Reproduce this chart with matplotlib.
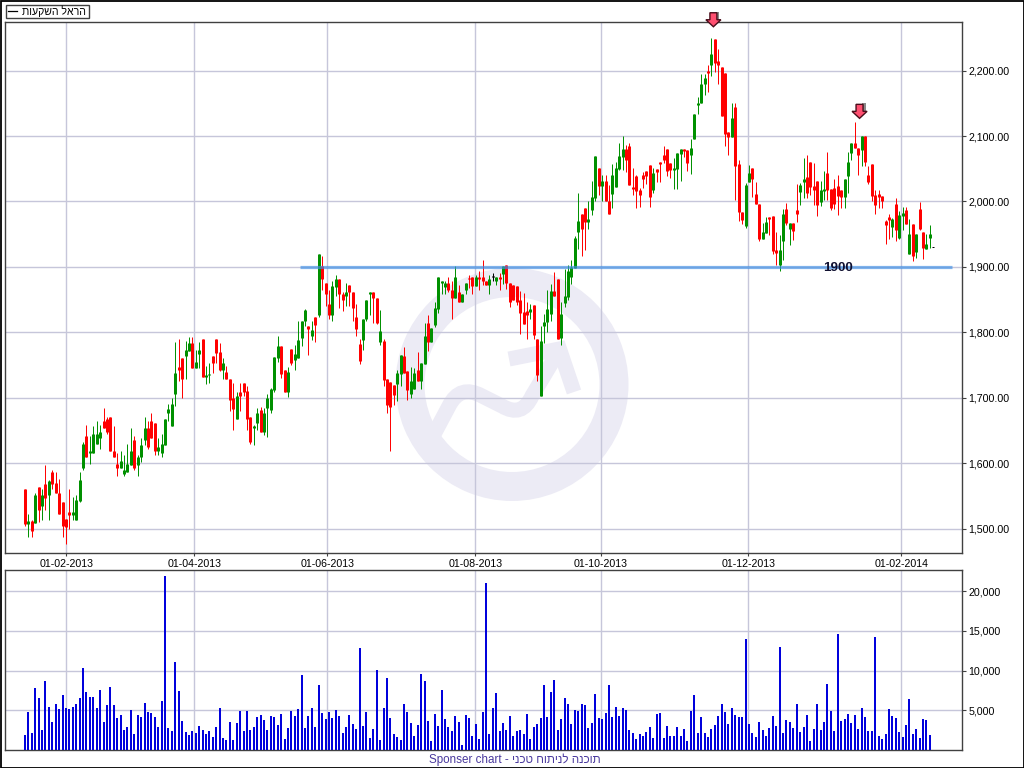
import numpy as np
import matplotlib
matplotlib.use('Agg')
import matplotlib.pyplot as plt
from matplotlib.patches import Wedge, Polygon, Rectangle, PathPatch
from matplotlib.path import Path
from matplotlib.lines import Line2D
from matplotlib.transforms import Affine2D

# candles: wick high, body top, body bottom, wick low, colour letter per session
highs = [
    1560,1522,1513,1555,1563,1560,1597,1574,1590,1587, 1575,1540,1514,1560,1548,1551,1587,1632,1659,1642,
    1657,1664,1659,1685,1670,1670,1657,1616,1618,1612, 1629,1653,1642,1612,1639,1670,1664,1677,1662,1639,
    1645,1667,1691,1700,1785,1789,1761,1787,1793,1793, 1773,1785,1790,1749,1753,1763,1789,1784,1760,1749,
    1729,1723,1709,1723,1723,1718,1670,1659,1685,1686, 1684,1706,1715,1762,1794,1779,1742,1747,1774,1780,
    1818,1818,1835,1809,1818,1823,1920,1917,1875,1864, 1878,1887,1882,1862,1875,1873,1862,1844,1789,1821,
    1849,1862,1862,1852,1834,1789,1728,1724,1719,1742, 1765,1777,1741,1747,1745,1770,1753,1814,1827,1806,
    1846,1885,1878,1878,1884,1878,1902,1873,1859,1875, 1887,1884,1888,1894,1911,1879,1888,1891,1884,1890,
    1901,1903,1876,1873,1870,1863,1860,1847,1844,1842, 1790,1809,1828,1865,1874,1892,1882,1847,1897,1903,
    1911,1947,2013,1981,1990,2001,2032,2069,2051,2040, 2040,2025,2057,2060,2089,2100,2086,2089,2051,2040,
    2020,2045,2046,2055,2051,2049,2060,2084,2080,2058, 2066,2074,2080,2080,2078,2095,2133,2160,2195,2195,
    2209,2250,2249,2233,2205,2197,2106,2150,2150,2064, 1984,2028,2055,2051,2029,1996,1967,1976,1976,1977,
    1953,1949,1988,1997,1967,1967,2026,2028,2066,2071, 2060,2058,2031,2031,2046,2075,2019,2034,2040,2017,
    2034,2075,2089,2122,2081,2100,2100,2054,2057,2017, 2017,2008,1972,1981,1975,2005,1985,1991,1991,1973,
    1965,1950,1999,1953,1950,1964]
tops = [
    1560,1511,1512,1551,1563,1552,1568,1572,1586,1569, 1555,1540,1514,1525,1525,1543,1574,1629,1641,1619,
    1645,1644,1648,1664,1668,1670,1619,1598,1603,1589, 1598,1619,1635,1610,1627,1654,1654,1665,1662,1624,
    1629,1667,1682,1691,1738,1747,1761,1773,1784,1784, 1755,1773,1790,1735,1737,1763,1789,1770,1753,1740,
    1729,1700,1702,1709,1723,1711,1670,1657,1677,1681, 1677,1699,1713,1762,1779,1779,1742,1739,1774,1767,
    1788,1818,1834,1809,1803,1823,1920,1902,1875,1843, 1870,1882,1882,1859,1862,1873,1862,1823,1782,1821,
    1849,1862,1862,1852,1802,1786,1728,1724,1719,1738, 1765,1763,1741,1725,1738,1742,1753,1795,1814,1806,
    1837,1885,1878,1875,1875,1865,1884,1861,1859,1875, 1882,1884,1884,1884,1884,1879,1881,1885,1884,1884,
    1901,1903,1876,1873,1870,1850,1831,1833,1836,1842, 1790,1786,1816,1836,1863,1863,1882,1828,1856,1894,
    1900,1944,1970,1981,1990,1973,2007,2069,2051,2031, 2031,2001,2040,2051,2069,2080,2080,2084,2022,2039,
    2017,2040,2046,2055,2043,2049,2060,2071,2080,2058, 2051,2074,2080,2080,2078,2081,2133,2150,2180,2189,
    2200,2226,2249,2214,2205,2197,2106,2127,2145,2057, 1984,2025,2043,2051,2011,1996,1953,1969,1976,1977,
    1926,1926,1981,1988,1967,1967,1987,2025,2034,2037, 2060,2023,2031,2017,2019,2043,2019,2020,2023,2017,
    2034,2060,2089,2089,2081,2100,2100,2040,2057,2010, 2011,2008,1970,1976,1973,1996,1979,1982,1987,1950,
    1965,1950,1988,1953,1935,1950]
bottoms = [
    1507,1507,1497,1509,1529,1534,1546,1551,1568,1554, 1523,1504,1502,1520,1520,1513,1542,1593,1610,1615,
    1616,1630,1639,1653,1648,1618,1610,1592,1592,1583, 1587,1597,1592,1597,1609,1635,1625,1639,1619,1619,
    1615,1627,1677,1657,1706,1743,1729,1763,1772,1746, 1746,1767,1732,1732,1734,1753,1769,1743,1743,1728,
    1696,1683,1667,1703,1709,1668,1632,1654,1662,1648, 1648,1684,1681,1712,1760,1736,1709,1709,1753,1757,
    1760,1792,1817,1805,1795,1811,1826,1881,1859,1827, 1827,1869,1858,1850,1856,1861,1837,1805,1756,1788,
    1820,1858,1853,1814,1785,1727,1689,1686,1704,1721, 1736,1738,1712,1706,1713,1725,1725,1751,1785,1785,
    1811,1835,1876,1869,1864,1853,1853,1847,1847,1864, 1881,1870,1870,1882,1879,1873,1873,1885,1879,1881,
    1889,1876,1847,1850,1847,1830,1813,1827,1831,1796, 1734,1702,1809,1815,1828,1856,1789,1792,1845,1854,
    1885,1898,1953,1958,1969,1969,1987,2005,2023,2023, 2001,1981,2011,2022,2049,2068,2064,2025,2019,2016,
    2010,2034,2039,2007,2017,2045,2057,2064,2046,2048, 2048,2049,2072,2077,2058,2071,2095,2148,2150,2179,
    2197,2209,2212,2209,2131,2103,2099,2099,2054,1984, 1972,1962,2029,2034,1996,1943,1943,1952,1973,1924,
    1921,1903,1940,1967,1958,1955,1981,2014,2029,2013, 2022,2017,1994,1999,2016,2017,1990,1996,2008,2007,
    2007,2039,2074,2081,2071,2078,2060,2029,2008,1994, 2007,2001,1964,1972,1961,1956,1944,1978,1965,1920,
    1917,1923,1958,1929,1927,1944]
lows = [
    1504,1487,1487,1508,1510,1513,1528,1513,1560,1554, 1523,1487,1476,1499,1513,1513,1540,1589,1610,1598,
    1616,1630,1622,1653,1644,1618,1610,1580,1592,1580, 1587,1597,1590,1580,1601,1627,1622,1639,1613,1613,
    1609,1627,1665,1657,1688,1725,1699,1728,1772,1746, 1746,1746,1732,1721,1723,1738,1753,1741,1728,1728,
    1679,1651,1667,1679,1703,1651,1629,1627,1651,1648, 1643,1640,1677,1709,1754,1730,1709,1701,1750,1742,
    1760,1779,1809,1765,1788,1785,1824,1864,1840,1821, 1817,1856,1837,1832,1840,1840,1817,1795,1751,1773,
    1817,1826,1814,1812,1780,1718,1677,1619,1689,1695, 1718,1738,1696,1699,1713,1725,1713,1751,1771,1785,
    1808,1829,1859,1859,1862,1820,1853,1846,1847,1858, 1867,1858,1870,1864,1872,1873,1858,1878,1873,1864,
    1874,1866,1838,1850,1842,1798,1813,1790,1821,1790, 1726,1702,1784,1801,1818,1856,1789,1781,1838,1850,
    1874,1898,1927,1917,1926,1958,1979,2001,2010,2001, 2001,1981,1990,2022,2048,2048,2045,2025,2010,1990,
    1991,2020,2026,1991,2013,2029,2029,2058,2039,2036, 2019,2019,2032,2068,2046,2042,2095,2133,2150,2163,
    2168,2191,2198,2179,2130,2084,2071,2099,2002,1970, 1965,1959,2029,2007,1996,1940,1943,1952,1949,1920,
    1903,1894,1911,1964,1934,1941,1969,1994,2005,2005, 2010,1994,1978,1993,2002,2002,1987,1988,1979,1990,
    1990,2013,2064,2081,2040,2054,2054,2026,2001,1981, 1990,1990,1935,1943,1946,1940,1943,1956,1965,1920,
    1909,1914,1956,1912,1927,1929]
directions = ("RGRGRGRGRR" "RRRRGGGGRG" "GGGRRRRRGG" "GGRGGGRRRG" "GGGGGRRGGR" "GGRGGRRRGR"
              "RRGRRRRGGR" "GGGGGRRGRG" "GGGRGRGRRR" "GGRRGRRRRG" "GGRRGRRRRG" "GRRGGRGGRG"
              "GGGGRRGRGG" "RRGRRRGKGR" "GRRRRRRRGR" "RGGGGRRGGG" "GGGRRGGGRG" "RRGGGGRRRR"
              "RRRRGRRRRR" "GGGRRGGGGG" "RGRRRRRGRR" "RGGRRRGGRR" "RGGRGRRGGR" "RRRGGRRRRR"
              "GGGRRGRRRR" "RRRRGRGGRG" "RGRRGG")
last_close = 1930

volumes = [
    1875,4750,2125,7875,6500,2500,8750,5375,3500,5750,5125,6875,5250,5125,5375,5750,6500,10375,7250,6625,
    6625,5250,7625,3500,5625,8000,5625,4000,4375,2500,2875,5000,2000,4375,4125,5875,4750,4625,4125,2875,
    6125,21875,2750,2375,11125,7375,3625,2250,1875,2375,2125,3000,2500,2000,2375,1625,2875,5250,1500,1250,
    3500,1250,3375,4875,2375,4875,2500,2875,4125,4375,3750,2500,4250,4125,3125,4500,1375,2750,4875,4250,
    5125,9500,2750,4250,5250,2875,8250,4625,3875,4750,4000,5000,4250,
    2125,2875,4375,3250,2625,12875,3000,4750,1500,2625,10125,1250,5250,9125,4000,2000,1625,1250,5750,4750,
    3375,1750,3125,9625,8750,3625,1125,4500,3000,7625,3875,2875,2375,4250,3500,625,4375,4000,1750,3250,
    1375,4750,21000,2000,5250,7125,2375,3375,2500,4250,1750,2375,2500,2000,4500,1375,2875,3250,4000,8250,
    4125,7250,8875,2500,3875,6500,5750,3250,5000,4875,5750,5625,2750,3375,7000,4000,3875,4625,8250,4125,
    5375,4250,5250,5000,2500,2125,1375,2000,1750,2250,2875,1500,4500,4625,1500,3000,1750,1750,2875,
    1750,2625,1125,4875,6875,2125,4125,2125,1625,2625,3125,4250,5750,4750,3250,5250,4375,4125,4125,14000,
    3250,2125,1625,3500,2500,1750,2750,4250,3000,13000,2125,3750,3500,2750,5750,2250,2875,4375,1125,2625,
    5750,2500,3500,8375,4875,2375,14625,3625,3875,4500,3375,4375,2625,5250,4125,2375,2375,14250,1750,1375,
    2000,5125,4250,4000,2250,1625,3125,6375,2000,2625,1500,3875,3750,1875]

date_labels = ['01-02-2013', '01-04-2013', '01-06-2013', '01-08-2013', '01-10-2013', '01-12-2013', '01-02-2014']
date_positions = [12.1, 49.6, 88.5, 131.9, 168.7, 211.8, 256.6]
price_ticks = [1500, 1600, 1700, 1800, 1900, 2000, 2100, 2200]
volume_ticks = [5000, 10000, 15000, 20000]

# hand drawn notes on the chart
support_level = 1900
support_span = (80.5, 271.4)
peak_notes = [(201.6, 2267), (244.4, 2127)]
legend_name = 'הראל השקעות'
footer_hebrew = 'תוכנה לניתוח טכני'

W, H = 1024, 768
GRID = '#c6c6da'
FRAME = '#404040'
GREEN = '#009000'
RED = '#ff0000'
WATERMARK = '#ecebf5'
FONT = 'Liberation Sans'
plt.rcParams['font.family'] = FONT
plt.rcParams['font.size'] = 7.7


def axes_px(left, top, right, bottom):
    return [left / W, 1 - bottom / H, (right - left) / W, (bottom - top) / H]


def style_axes(ax, ticks, fmt):
    ax.set_xlim(-5.86, 274.4)
    ax.set_yticks(ticks)
    ax.set_yticklabels([fmt.format(t) for t in ticks])
    ax.yaxis.tick_right()
    ax.set_xticks(date_positions)
    ax.grid(True, color=GRID, linewidth=1.0, zorder=1)
    ax.set_axisbelow(True)
    for s in ax.spines.values():
        s.set_color(FRAME)
        s.set_linewidth(1.0)
    ax.tick_params(axis='y', length=3, width=0.8, color=FRAME, pad=1.5, labelcolor='black')
    ax.tick_params(axis='x', length=2, width=0.8, color=FRAME, pad=2, labelcolor='black')


fig = plt.figure(figsize=(W / 100, H / 100), dpi=100, facecolor='white')
ax = fig.add_axes(axes_px(5, 22.3, 962, 553.3))
vol = fig.add_axes(axes_px(5, 570.3, 962, 750))

# pixel space for the watermark, the note arrows and the frame (y down)
pix = Affine2D().scale(1, -1).translate(0, H)

# watermark behind everything
wm_kw = dict(transform=pix, zorder=0.5, clip_on=False)
ax.add_patch(Wedge((512, 384.5), 116.5, 0, 360, width=29, facecolor=WATERMARK, edgecolor='none', **wm_kw))
wave = Path([(432, 438), (449, 406), (460, 384), (482, 396), (502, 406), (522, 418), (532, 396), (557, 354)],
            [Path.MOVETO, Path.LINETO, Path.CURVE3, Path.CURVE3, Path.LINETO, Path.CURVE3, Path.CURVE3, Path.LINETO])
ax.add_patch(PathPatch(wave, facecolor='none', edgecolor=WATERMARK, linewidth=10.8, capstyle='butt', **wm_kw))
ax.add_line(Line2D([509, 559.5, 574], [359, 349, 392], color=WATERMARK,
                   linewidth=10.8, solid_capstyle='butt', solid_joinstyle='miter', **wm_kw))

x = np.arange(len(highs))
highs_a, tops_a, bottoms_a, lows_a = map(np.array, (highs, tops, bottoms, lows))
colors = [{'G': GREEN, 'R': RED, 'K': 'black'}[d] for d in directions]

# widths just under 1 and 3 pixels so the snapping keeps them whole
wicks = ax.vlines(x, lows_a, highs_a, colors=colors, linewidth=0.71, zorder=3)
bodies = ax.vlines(x, bottoms_a, np.maximum(tops_a, bottoms_a + 1.5), colors=colors, linewidth=2.15,
                   zorder=3, capstyle='butt')
wicks.set_snap(True)
bodies.set_snap(True)
ax.hlines(last_close, x[-1] + 0.5, x[-1] + 1.3, colors='black', linewidth=0.71, zorder=3)

ax.plot(support_span, [support_level, support_level], color='#3f8fe6', alpha=0.65, linewidth=2.3,
        solid_capstyle='butt', zorder=4)
ax.text(238.2, support_level - 2, str(support_level), ha='center', va='center', fontsize=9.6,
        fontweight='bold', color='#101030', zorder=5)

ax.set_ylim(1462.2, 2273.8)
style_axes(ax, price_ticks, '{:,.2f}')
ax.set_xticklabels(date_labels)

vol_x = np.arange(len(volumes))
vol_bars = vol.vlines(vol_x, 0, volumes, colors='#0000dc', linewidth=1.43, zorder=3, capstyle='butt')
vol_bars.set_snap(True)
vol.set_ylim(0, 22650)
style_axes(vol, volume_ticks, '{:,.0f}')
vol.tick_params(axis='x', labelbottom=False, length=0)

# note arrows, tip sits on the given bar and price
fig.canvas.draw()
for nx, ny in peak_notes:
    tx, ty = ax.transData.transform((nx, ny))
    ty = H - ty
    shape = [(-3.5, -14), (3.5, -14), (3.5, -7), (7.5, -7), (0, 0), (-7.5, -7), (-3.5, -7)]
    shadow = [(tx + 2, ty - 15), (tx + 6, ty - 15), (tx + 6, ty - 7), (tx + 2, ty - 7)]
    fig.add_artist(Polygon(shadow, closed=True, facecolor='#8a8a8a', edgecolor='none', transform=pix))
    fig.add_artist(Polygon([(tx + a, ty + b) for a, b in shape], closed=True, facecolor='#ff4f70',
                           edgecolor='#4a0d1a', linewidth=1.0, transform=pix))

# legend box top left, matplotlib does not reorder Hebrew so it is reversed for display
fig.add_artist(Rectangle((5.5, 5), 83, 13, facecolor='white', edgecolor=FRAME, linewidth=1.0, transform=pix))
fig.add_artist(Line2D([8, 17], [10.5, 10.5], color='black', linewidth=0.9, transform=pix))
fig.text(86 / W, 1 - 11.5 / H, legend_name[::-1], ha='right', va='center', fontsize=7.6, color='black')

# footer
fig.text(514.5 / W, 1 - 760 / H, 'Sponser chart - ' + footer_hebrew[::-1], ha='center', va='center',
         fontsize=8.4, color='#4a3a9e')

# outer black frame
fig.add_artist(Rectangle((0.5, 0.5), W - 1, H - 1, facecolor='none', edgecolor='black', linewidth=1.3, transform=pix))

fig.savefig('out.png', dpi=100)
